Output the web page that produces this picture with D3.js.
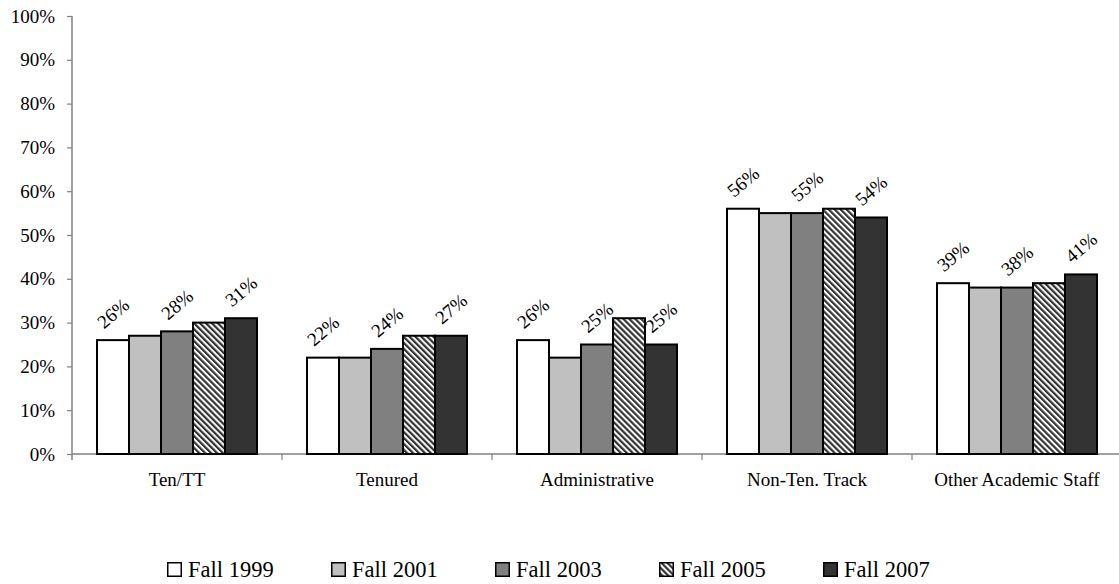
<!DOCTYPE html>
<html>
<head>
<meta charset="utf-8">
<script src="https://cdn.jsdelivr.net/npm/d3@7"></script>
<style>
  html, body { margin: 0; padding: 0; background: #fff; }
  svg { display: block; }
  text { font-family: "Liberation Serif", "Times New Roman", serif; fill: #000; }
</style>
</head>
<body>
<svg id="chart" width="1119" height="584"></svg>
<script>
// Faculty appointment shares by category and fall term
const categories = ["Ten/TT", "Tenured", "Administrative", "Non-Ten. Track", "Other Academic Staff"];
const seriesNames = ["Fall 1999", "Fall 2001", "Fall 2003", "Fall 2005", "Fall 2007"];
const fall1999 = [26, 22, 26, 56, 39];
const fall2001 = [27, 22, 22, 55, 38];
const fall2003 = [28, 24, 25, 55, 38];
const fall2005 = [30, 27, 31, 56, 39];
const fall2007 = [31, 27, 25, 54, 41];
const seriesValues = [fall1999, fall2001, fall2003, fall2005, fall2007];
// Only these series carry value labels above their bars
const labelledSeries = ["Fall 1999", "Fall 2003", "Fall 2007"];
const yTicks = [0, 10, 20, 30, 40, 50, 60, 70, 80, 90, 100];

const fills = ["#ffffff", "#c0c0c0", "#808080", "url(#stripes)", "#333333"];

const svg = d3.select("#chart");
const fontSize = 19;
const legendFont = 22.5;

// Diagonal hatching for the Fall 2005 series
const defs = svg.append("defs");
const pat = defs.append("pattern")
  .attr("id", "stripes")
  .attr("patternUnits", "userSpaceOnUse")
  .attr("width", 4.2).attr("height", 10)
  .attr("patternTransform", "rotate(-45)");
pat.append("rect").attr("width", 4.2).attr("height", 10).attr("fill", "#ffffff");
pat.append("rect").attr("width", 2.2).attr("height", 10).attr("fill", "#333333");

const plot = { left: 72, right: 1122, top: 16, bottom: 454 };

const y = d3.scaleLinear().domain([0, 100]).range([plot.bottom, plot.top]);

const x0 = d3.scaleBand()
  .domain(categories)
  .range([plot.left, plot.right])
  .paddingInner(50 / 210)
  .paddingOuter(25 / 210);

const x1 = d3.scaleBand()
  .domain(seriesNames)
  .range([0, x0.bandwidth()])
  .padding(0);

// Y axis
const yAxis = d3.axisLeft(y)
  .tickValues(yTicks)
  .tickFormat(d => d + "%")
  .tickSize(5)
  .tickPadding(12);
const gy = svg.append("g").attr("transform", `translate(${plot.left},0)`).call(yAxis);
gy.select(".domain").remove();
gy.selectAll(".tick line").attr("stroke", "#808080").attr("stroke-width", 1.2);
gy.selectAll(".tick text")
  .style("font-size", fontSize + "px")
  .style("font-family", "'Liberation Serif', serif");
svg.append("line")
  .attr("x1", plot.left).attr("x2", plot.left)
  .attr("y1", plot.top).attr("y2", plot.bottom + 6)
  .attr("stroke", "#808080").attr("stroke-width", 1.5);

// X axis with ticks at category boundaries
svg.append("line")
  .attr("x1", plot.left).attr("x2", plot.right)
  .attr("y1", plot.bottom).attr("y2", plot.bottom)
  .attr("stroke", "#808080").attr("stroke-width", 1.5);
const boundaries = categories.slice(1).map(c => x0(c) - x0.step() * x0.paddingInner() / 2);
svg.selectAll(".cat-tick").data(boundaries).join("line")
  .attr("class", "cat-tick")
  .attr("x1", d => d).attr("x2", d => d)
  .attr("y1", plot.bottom).attr("y2", plot.bottom + 6)
  .attr("stroke", "#808080").attr("stroke-width", 1.2);

svg.selectAll(".cat-label").data(categories).join("text")
  .attr("class", "cat-label")
  .attr("x", d => x0(d) + x0.bandwidth() / 2)
  .attr("y", 486)
  .attr("text-anchor", "middle")
  .style("font-size", fontSize + "px")
  .text(d => d);

// Bars
const cells = [];
categories.forEach((c, ci) => {
  seriesNames.forEach((s, si) => {
    cells.push({ cat: c, series: s, si: si, value: seriesValues[si][ci] });
  });
});

svg.append("g").selectAll("rect").data(cells).join("rect")
  .attr("x", d => x0(d.cat) + x1(d.series))
  .attr("y", d => y(d.value))
  .attr("width", x1.bandwidth())
  .attr("height", d => y(0) - y(d.value))
  .attr("fill", d => fills[d.si])
  .attr("stroke", "#000")
  .attr("stroke-width", 2);

// Rotated value labels
svg.append("g").selectAll("text")
  .data(cells.filter(d => labelledSeries.includes(d.series)))
  .join("text")
  .attr("transform", d => {
    const cx = x0(d.cat) + x1(d.series) + x1.bandwidth() / 2;
    const cy = y(d.value) - 27;
    return `translate(${cx},${cy}) rotate(-40)`;
  })
  .attr("text-anchor", "middle")
  .attr("dy", "0.35em")
  .style("font-size", fontSize + "px")
  .text(d => d.value + "%");

// Legend
const legendX = [167, 331, 495, 659, 823];
const legend = svg.append("g").selectAll("g").data(seriesNames).join("g")
  .attr("transform", (d, i) => `translate(${legendX[i]},562)`);
legend.append("rect")
  .attr("x", 0.75).attr("y", 0.75)
  .attr("width", 13.5).attr("height", 13.5)
  .attr("fill", (d, i) => fills[i])
  .attr("stroke", "#000").attr("stroke-width", 1.5);
legend.append("text")
  .attr("x", 21).attr("y", 15)
  .style("font-size", legendFont + "px")
  .text(d => d);
</script>
</body>
</html>
